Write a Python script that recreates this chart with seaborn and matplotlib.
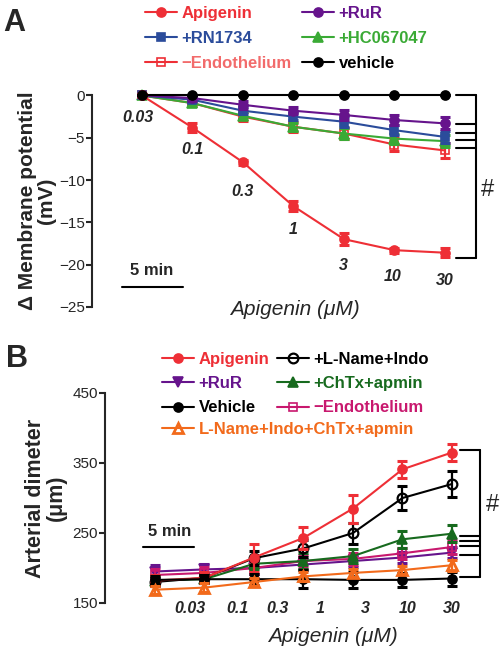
import matplotlib
matplotlib.use('Agg')
import matplotlib.pyplot as plt
import seaborn as sns

doses = ['0.03', '0.1', '0.3', '1', '3', '10', '30']
steps = [0, 1, 2, 3, 4, 5, 6]

# panel A - change of membrane potential (mV)
apigenin_a = [0, -3.8, -7.9, -13.1, -17.0, -18.3, -18.6]
apigenin_a_err = [0.2, 0.5, 0.3, 0.6, 0.7, 0.3, 0.5]
rur_a = [0, -0.3, -1.1, -1.8, -2.3, -2.9, -3.3]
rur_a_err = [0.1, 0.3, 0.5, 0.4, 0.6, 0.6, 0.7]
rn1734_a = [0, -0.5, -1.8, -2.5, -3.1, -4.1, -4.9]
rn1734_a_err = [0.1, 0.3, 0.4, 0.4, 0.6, 0.6, 0.7]
hc067047_a = [0, -0.9, -2.4, -3.7, -4.5, -5.1, -5.4]
hc067047_a_err = [0.1, 0.3, 0.4, 0.5, 0.6, 0.6, 0.7]
endo_a = [0, -0.9, -2.5, -3.7, -4.5, -5.8, -6.5]
endo_a_err = [0.1, 0.4, 0.5, 0.6, 0.7, 0.8, 0.9]
vehicle_a = [0, 0, 0, 0, 0, 0, 0]
vehicle_a_err = [0, 0, 0, 0, 0, 0, 0]

# panel B - arterial diameter (um)
apigenin_b = [182, 186, 215, 243, 285, 341, 365]
apigenin_b_err = [8, 8, 20, 16, 20, 12, 12]
lname_b = [180, 186, 214, 228, 250, 300, 320]
lname_b_err = [6, 6, 10, 12, 15, 17, 19]
rur_b = [195, 198, 200, 205, 210, 215, 222]
rur_b_err = [10, 8, 8, 8, 8, 8, 8]
chtx_b = [182, 184, 206, 210, 217, 241, 249]
chtx_b_err = [6, 6, 8, 12, 10, 12, 12]
vehicle_b = [183, 184, 184, 184, 183, 183, 185]
vehicle_b_err = [6, 6, 8, 13, 12, 10, 10]
endo_b = [190, 193, 200, 210, 213, 221, 230]
endo_b_err = [8, 8, 8, 8, 8, 8, 10]
all4_b = [169, 172, 180, 188, 193, 197, 204]
all4_b_err = [6, 6, 6, 6, 6, 6, 8]

bracket_a = [0, -3.4, -4.4, -5.3, -6.25, -19.2]
bracket_b = [368.6, 245.7, 238.6, 231.4, 218, 187.6]

sns.set_style('ticks')
plt.rcParams['font.family'] = ['Liberation Sans', 'DejaVu Sans']
plt.rcParams['axes.linewidth'] = 1.5

RED = '#ee2f36'
SALMON = '#f26b6b'
BLUE = '#2b4c9b'
PURPLE = '#66148c'
GREEN = '#3aaa35'
DKGREEN = '#176a1e'
MAGENTA = '#c8186e'
ORANGE = '#f26a1b'


def draw(ax, y, err, color, marker, mfc=None, ms=6, mew=1.2, z=3):
    sns.lineplot(x=steps, y=y, ax=ax, color=color, marker=marker, markersize=ms,
                 markerfacecolor=mfc if mfc else color, markeredgecolor=color,
                 markeredgewidth=mew, linewidth=1.5, errorbar=None, zorder=z,
                 clip_on=False)
    h = ax.lines[-1]
    ax.errorbar(steps, y, yerr=err, fmt='none', ecolor=color, elinewidth=1.6,
                capsize=3.5, capthick=2.2, zorder=z, clip_on=False)
    return h


def style_axis(ax):
    sns.despine(ax=ax, bottom=True)
    ax.set_xticks([])
    ax.tick_params(axis='y', length=4, width=1.5, labelsize=11, pad=1)


fig = plt.figure(figsize=(5.02, 6.53), dpi=100)

# ---------------- panel A ----------------
axA = fig.add_axes([92 / 502, 1 - 306.8 / 653, 408 / 502, 211.3 / 653])
h_endo = draw(axA, endo_a, endo_a_err, RED, 's', mfc='none', ms=6)
h_hc = draw(axA, hc067047_a, hc067047_a_err, GREEN, '^', ms=6.5)
h_rn = draw(axA, rn1734_a, rn1734_a_err, BLUE, 's', ms=5.5)
h_rur = draw(axA, rur_a, rur_a_err, PURPLE, 'o', ms=6.5)
h_api = draw(axA, apigenin_a, apigenin_a_err, RED, 'o', ms=6.5, z=4)
h_veh = draw(axA, vehicle_a, vehicle_a_err, 'black', 'o', ms=6.5, z=5)
axA.set_xlim(-0.99, 7.09)
axA.set_ylim(-25, 0)
axA.set_yticks([0, -5, -10, -15, -20, -25])
style_axis(axA)
axA.set_ylabel('Δ Membrane potential\n(mV)', fontsize=15, fontweight='bold',
               linespacing=1.0, labelpad=2)
axA.set_xlabel('')

dose_pos_a = [(-0.08, -2.6), (1.0, -6.4), (1.98, -11.3), (2.99, -15.9),
              (3.98, -20.1), (4.97, -21.4), (6.0, -21.9)]
for lab, (xx, yy) in zip(doses, dose_pos_a):
    axA.text(xx, yy, lab, ha='center', va='center', fontsize=11.5,
             fontweight='bold', style='italic')

axA.plot([-0.4, 0.81], [-22.6, -22.6], color='black', lw=1.5, clip_on=False)
axA.text(0.2, -20.7, '5 min', ha='center', va='center', fontsize=12, fontweight='bold')
axA.text(3.03, -24.2, 'Apigenin (μM)', ha='center', va='top', fontsize=15, style='italic')

bx0, bx1 = 6.22, 6.61
axA.plot([bx1, bx1], [bracket_a[0], bracket_a[-1]], color='black', lw=1.5, clip_on=False)
for lv in bracket_a:
    axA.plot([bx0, bx1], [lv, lv], color='black', lw=1.5, clip_on=False)
axA.text(6.85, -11.2, '#', ha='center', va='center', fontsize=17)

fig.text(3 / 502, 1 - 23 / 653, 'A', fontsize=22, fontweight='bold', va='center')

leg_kw = dict(loc='upper left', frameon=False, borderpad=0, borderaxespad=0,
              handlelength=1.9, handletextpad=0.3, labelspacing=0.6,
              prop={'size': 12, 'weight': 'bold'})
legA1 = fig.legend([h_api, h_rn, h_endo], ['Apigenin', '+RN1734', '−Endothelium'],
                   bbox_to_anchor=(145 / 502, 1 - 6 / 653), **leg_kw)
for t, c in zip(legA1.get_texts(), [RED, BLUE, SALMON]):
    t.set_color(c)
legA2 = fig.legend([h_rur, h_hc, h_veh], ['+RuR', '+HC067047', 'vehicle'],
                   bbox_to_anchor=(302 / 502, 1 - 6 / 653), **leg_kw)
for t, c in zip(legA2.get_texts(), [PURPLE, GREEN, 'black']):
    t.set_color(c)

# ---------------- panel B ----------------
axB = fig.add_axes([105 / 502, 50 / 653, 395 / 502, 210 / 653])
h_rurb = draw(axB, rur_b, rur_b_err, PURPLE, 'v', ms=6.5)
h_endob = draw(axB, endo_b, endo_b_err, MAGENTA, 's', mfc='none', ms=6)
h_chtx = draw(axB, chtx_b, chtx_b_err, DKGREEN, '^', ms=6.5)
h_lname = draw(axB, lname_b, lname_b_err, 'black', 'o', mfc='none', ms=7, mew=1.6)
h_apib = draw(axB, apigenin_b, apigenin_b_err, RED, 'o', ms=6.5, z=4)
h_vehb = draw(axB, vehicle_b, vehicle_b_err, 'black', 'o', ms=6.5, z=4)
h_all4 = draw(axB, all4_b, all4_b_err, ORANGE, '^', mfc='none', ms=7, mew=2, z=5)
axB.set_xlim(-1.01, 6.97)
axB.set_ylim(150, 450)
axB.set_yticks([150, 250, 350, 450])
style_axis(axB)
axB.set_ylabel('Arterial dimeter\n(μm)', fontsize=15.5, fontweight='bold',
               linespacing=1.0, labelpad=4)
axB.set_xlabel('')

dose_pos_b = [0.71, 1.66, 2.48, 3.33, 4.24, 5.11, 6.0]
for lab, xx in zip(doses, dose_pos_b):
    axB.text(xx, 142, lab, ha='center', va='center', fontsize=11.5,
             fontweight='bold', style='italic')

axB.plot([-0.24, 0.79], [230, 230], color='black', lw=1.5, clip_on=False)
axB.text(0.3, 252, '5 min', ha='center', va='center', fontsize=12, fontweight='bold')
axB.text(3.6, 115, 'Apigenin (μM)', ha='center', va='top', fontsize=15, style='italic')

cx0, cx1 = 6.16, 6.57
axB.plot([cx1, cx1], [bracket_b[0], bracket_b[-1]], color='black', lw=1.5, clip_on=False)
for lv in bracket_b:
    axB.plot([cx0, cx1], [lv, lv], color='black', lw=1.5, clip_on=False)
axB.text(6.81, 290, '#', ha='center', va='center', fontsize=17)

fig.text(6 / 502, 1 - 359 / 653, 'B', fontsize=22, fontweight='bold', va='center')

leg_kw['labelspacing'] = 0.55
legB1 = fig.legend([h_apib, h_rurb, h_vehb], ['Apigenin', '+RuR', 'Vehicle'],
                   bbox_to_anchor=(162 / 502, 1 - 352 / 653), **leg_kw)
for t, c in zip(legB1.get_texts(), [RED, PURPLE, 'black']):
    t.set_color(c)
legB2 = fig.legend([h_lname, h_chtx, h_endob], ['+L-Name+Indo', '+ChTx+apmin', '−Endothelium'],
                   bbox_to_anchor=(277 / 502, 1 - 352 / 653), **leg_kw)
for t, c in zip(legB2.get_texts(), ['black', DKGREEN, MAGENTA]):
    t.set_color(c)
legB3 = fig.legend([h_all4], ['L-Name+Indo+ChTx+apmin'],
                   bbox_to_anchor=(162 / 502, 1 - 422 / 653), **leg_kw)
legB3.get_texts()[0].set_color(ORANGE)

fig.savefig('out.png', dpi=100)
